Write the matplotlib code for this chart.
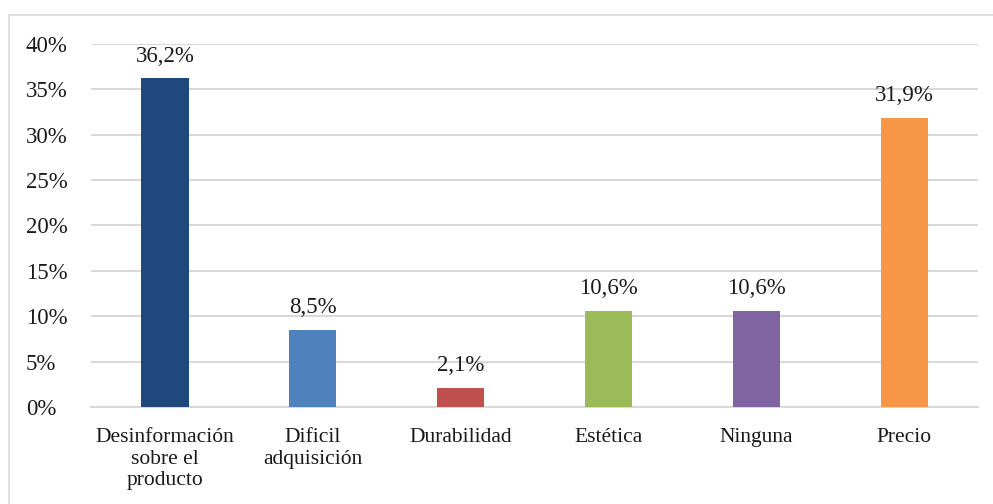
import matplotlib.pyplot as plt
from matplotlib.patches import Rectangle

categorias = ["Desinformación\nsobre el\nproducto", "Dificil\nadquisición", "Durabilidad",
              "Estética", "Ninguna", "Precio"]
valores = [36.2, 8.5, 2.1, 10.6, 10.6, 31.9]
etiquetas = ["36,2%", "8,5%", "2,1%", "10,6%", "10,6%", "31,9%"]
colores = ["#1F497D", "#4F81BD", "#C0504D", "#9BBB59", "#8064A2", "#F79646"]
ticks_y = [0, 5, 10, 15, 20, 25, 30, 35, 40]

plt.rcParams['font.family'] = ['Liberation Serif', 'DejaVu Serif']

fig = plt.figure(figsize=(9.93, 5.04), dpi=100)
ax = fig.add_axes([0.0916, 0.1925, 0.8934, 0.7202])

# marco exterior
fig.patches.append(Rectangle((9 / 993, -0.1), 1.2, 1.1 - 15 / 504, transform=fig.transFigure,
                             fill=False, edgecolor="#D9D9D9", linewidth=1.2))

x = range(len(categorias))
ax.bar(x, valores, width=0.32, color=colores, zorder=3)
for i, v in enumerate(valores):
    ax.text(i, v + 1.3, etiquetas[i], ha="center", va="bottom", fontsize=16.5, color="#1a1a1a")

ax.set_xlim(-0.5, len(categorias) - 0.5)
ax.set_ylim(0, 40)
ax.set_yticks(ticks_y)
ax.set_yticklabels([str(t) + "%" for t in ticks_y], fontsize=16.5, color="#1a1a1a")
ax.set_xticks(list(x))
ax.set_xticklabels(categorias, fontsize=15.5, color="#1a1a1a", linespacing=1.2)
ax.tick_params(axis="both", length=0)
ax.tick_params(axis="x", pad=15)
for lbl in ax.get_yticklabels():
    lbl.set_horizontalalignment("left")
ax.yaxis.set_tick_params(pad=47)

ax.grid(axis="y", color="#D9D9D9", linewidth=1.5, zorder=0)
for s in ["top", "right", "left"]:
    ax.spines[s].set_visible(False)
ax.spines["bottom"].set_color("#D9D9D9")
ax.spines["bottom"].set_linewidth(1.5)

plt.savefig("out.png", dpi=100)
